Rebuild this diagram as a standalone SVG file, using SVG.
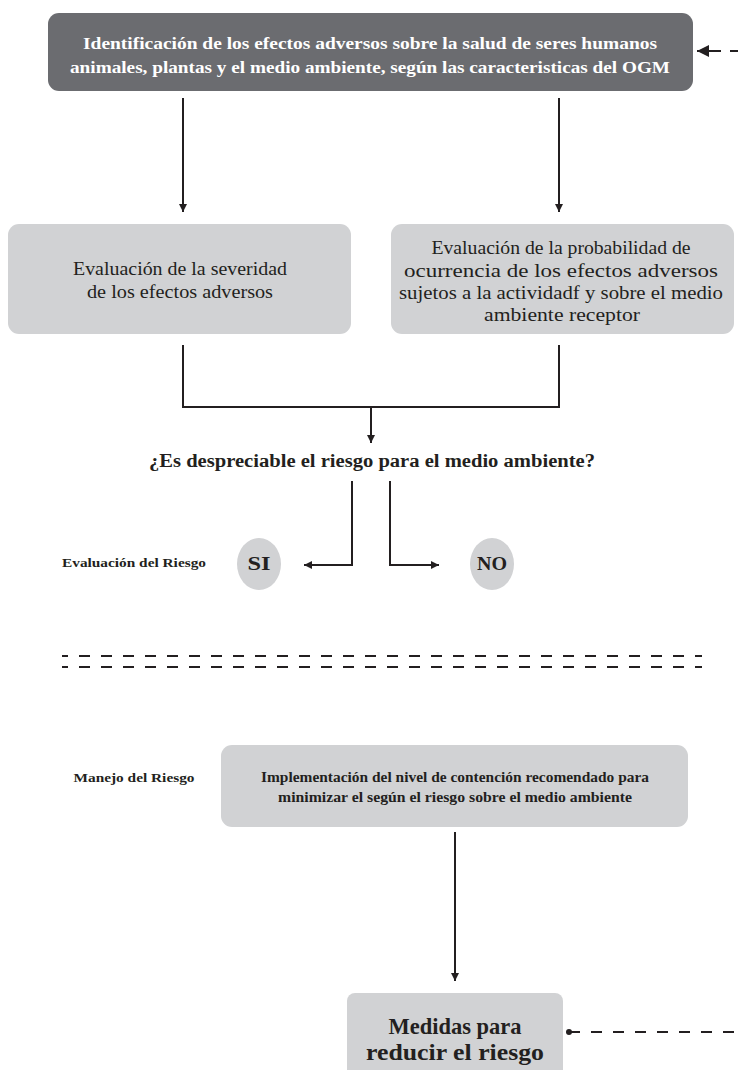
<svg xmlns="http://www.w3.org/2000/svg" width="738" height="1070" viewBox="0 0 738 1070">
<defs>
<marker id="ah" viewBox="0 0 10 10" refX="10" refY="5" markerWidth="8" markerHeight="8" markerUnits="userSpaceOnUse" orient="auto">
<path d="M0,0 L10,5 L0,10 z" fill="#231f20"/>
</marker>
<marker id="ahb" viewBox="0 0 10 10" refX="10" refY="5" markerWidth="12" markerHeight="12" markerUnits="userSpaceOnUse" orient="auto">
<path d="M0,0 L10,5 L0,10 z" fill="#231f20"/>
</marker>
<marker id="dot" viewBox="0 0 10 10" refX="5" refY="5" markerWidth="6" markerHeight="6" markerUnits="userSpaceOnUse">
<circle cx="5" cy="5" r="5" fill="#231f20"/>
</marker>
</defs>
<style>
.t{font-family:"Liberation Serif","DejaVu Serif",serif;fill:#231f20;text-anchor:middle}
.b{font-weight:bold}
.w{fill:#ffffff}
.dark{fill:#6b6c70}
.light{fill:#d1d2d4}
.ln{stroke:#231f20;stroke-width:2;fill:none}
.ds{stroke:#231f20;stroke-width:2;fill:none;stroke-dasharray:11 11}
</style>
<rect width="738" height="1070" fill="#ffffff"/>
<g id="n-ident">
<rect x="48" y="13" width="645" height="78" rx="11" class="dark"/>
<text class="t b w" x="370" y="49" font-size="17" textLength="574" lengthAdjust="spacingAndGlyphs">Identificación de los efectos adversos sobre la salud de seres humanos</text>
<text class="t b w" x="370" y="73" font-size="17" textLength="600" lengthAdjust="spacingAndGlyphs">animales, plantas y el medio ambiente, según las caracteristicas del OGM</text>
</g>
<g id="n-severidad">
<rect x="8" y="224" width="343" height="110" rx="11" class="light"/>
<text class="t" x="180" y="275" font-size="19" textLength="214" lengthAdjust="spacingAndGlyphs">Evaluación de la severidad</text>
<text class="t" x="180" y="298" font-size="19" textLength="186" lengthAdjust="spacingAndGlyphs">de los efectos adversos</text>
</g>
<g id="n-probabilidad">
<rect x="391" y="224" width="343" height="110" rx="11" class="light"/>
<text class="t" x="561" y="254" font-size="19" textLength="259" lengthAdjust="spacingAndGlyphs">Evaluación de la probabilidad de</text>
<text class="t" x="561" y="277" font-size="19" textLength="314" lengthAdjust="spacingAndGlyphs">ocurrencia de los efectos adversos</text>
<text class="t" x="561" y="299" font-size="19" textLength="324" lengthAdjust="spacingAndGlyphs">sujetos a la actividadf y sobre el medio</text>
<text class="t" x="562" y="321" font-size="19" textLength="156" lengthAdjust="spacingAndGlyphs">ambiente receptor</text>
</g>
<g id="n-pregunta">
<text class="t b" x="372" y="467" font-size="18" textLength="446" lengthAdjust="spacingAndGlyphs">¿Es despreciable el riesgo para el medio ambiente?</text>
</g>
<g id="n-si">
<ellipse cx="259" cy="564" rx="22" ry="26" class="light"/>
<text class="t b" x="259" y="570" font-size="18" textLength="23" lengthAdjust="spacingAndGlyphs">SI</text>
</g>
<g id="n-no">
<ellipse cx="492" cy="564" rx="22" ry="26" class="light"/>
<text class="t b" x="492" y="570" font-size="18" textLength="30" lengthAdjust="spacingAndGlyphs">NO</text>
</g>
<g id="l-evaluacion">
<text class="t b" x="134" y="567" font-size="13.5" textLength="144" lengthAdjust="spacingAndGlyphs">Evaluación del Riesgo</text>
</g>
<g id="separator">
<line x1="62" y1="656" x2="702" y2="656" class="ds" stroke-dashoffset="5"/>
<line x1="62" y1="667" x2="702" y2="667" class="ds" stroke-dashoffset="5"/>
</g>
<g id="l-manejo">
<text class="t b" x="134" y="782" font-size="13.5" textLength="121" lengthAdjust="spacingAndGlyphs">Manejo del Riesgo</text>
</g>
<g id="n-implementacion">
<rect x="221" y="745" width="467" height="82" rx="11" class="light"/>
<text class="t b" x="455" y="782" font-size="15" textLength="388" lengthAdjust="spacingAndGlyphs">Implementación del nivel de contención recomendado para</text>
<text class="t b" x="455" y="802" font-size="15" textLength="354" lengthAdjust="spacingAndGlyphs">minimizar el según el riesgo sobre el medio ambiente</text>
</g>
<g id="n-medidas">
<rect x="347" y="993" width="216" height="90" rx="8" class="light"/>
<text class="t b" x="455" y="1034" font-size="23" textLength="133" lengthAdjust="spacingAndGlyphs">Medidas para</text>
<text class="t b" x="455" y="1060" font-size="23" textLength="178" lengthAdjust="spacingAndGlyphs">reducir el riesgo</text>
</g>
<g id="connectors">
<line x1="183" y1="98" x2="183" y2="212" class="ln" stroke-width="1.5" marker-end="url(#ah)"/>
<line x1="559" y1="98" x2="559" y2="212" class="ln" stroke-width="1.5" marker-end="url(#ah)"/>
<polyline points="183,345 183,407 559,407 559,345" class="ln"/>
<line x1="371" y1="407" x2="371" y2="443" class="ln" stroke-width="1.5" marker-end="url(#ah)"/>
<polyline points="352,481 352,565 304,565" class="ln" stroke-width="1.5" marker-end="url(#ah)"/>
<polyline points="390,481 390,565 439,565" class="ln" stroke-width="1.5" marker-end="url(#ah)"/>
<line x1="455" y1="832" x2="455" y2="981" class="ln" stroke-width="1.5" marker-end="url(#ah)"/>
<line x1="721" y1="51" x2="697" y2="51" class="ln" marker-end="url(#ahb)"/>
<line x1="730" y1="51" x2="738" y2="51" class="ln"/>
<line x1="569" y1="1032" x2="738" y2="1032" class="ds" stroke-dasharray="11 11" marker-start="url(#dot)"/>
</g>
</svg>
